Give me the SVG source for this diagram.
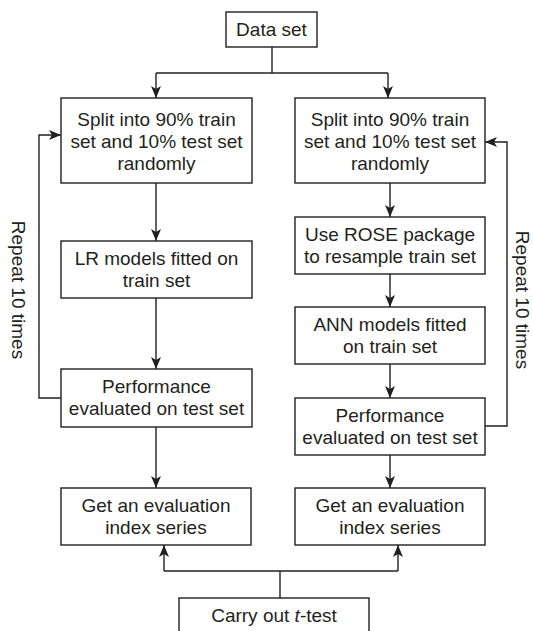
<svg xmlns="http://www.w3.org/2000/svg" width="533" height="631" viewBox="0 0 533 631">
<defs>
<marker id="ah" viewBox="0 0 12 10" refX="12" refY="5" markerWidth="12" markerHeight="10" markerUnits="userSpaceOnUse" orient="auto">
<path d="M0,0 L12,5 L0,10 L3,5 Z" fill="#231f20"/>
</marker>
<style>
.box{fill:#fff;stroke:#231f20;stroke-width:1.4}
.ln{fill:none;stroke:#231f20;stroke-width:1.4}
text{font-family:"Liberation Sans",Arial,sans-serif;font-size:19px;fill:#231f20;text-anchor:middle}
</style>
</defs>
<rect width="533" height="631" fill="#fff"/>
<g id="connectors">
<path class="ln" d="M272,47 V73"/>
<path class="ln" d="M156,73 H388"/>
<path class="ln" d="M156,73 V98" marker-end="url(#ah)"/>
<path class="ln" d="M388,73 V98" marker-end="url(#ah)"/>
<path class="ln" d="M156,183 V241" marker-end="url(#ah)"/>
<path class="ln" d="M156,298 V369" marker-end="url(#ah)"/>
<path class="ln" d="M156,427 V488" marker-end="url(#ah)"/>
<path class="ln" d="M61,398 H39 V135 H61" marker-end="url(#ah)"/>
<path class="ln" d="M390,183 V217" marker-end="url(#ah)"/>
<path class="ln" d="M390,274 V307" marker-end="url(#ah)"/>
<path class="ln" d="M390,364 V398" marker-end="url(#ah)"/>
<path class="ln" d="M390,455 V488" marker-end="url(#ah)"/>
<path class="ln" d="M485,426 H507 V142 H485" marker-end="url(#ah)"/>
<path class="ln" d="M280,598 V571"/>
<path class="ln" d="M164,571 H398"/>
<path class="ln" d="M164,571 V545" marker-end="url(#ah)"/>
<path class="ln" d="M398,571 V545" marker-end="url(#ah)"/>
<text transform="translate(12,290) rotate(90)">Repeat 10 times</text>
<text transform="translate(516,300) rotate(90)">Repeat 10 times</text>
</g>
<g id="n-data">
<rect class="box" x="226" y="12" width="91" height="35"/>
<text x="271.5" y="36">Data set</text>
</g>
<g id="n-split-l">
<rect class="box" x="61" y="98" width="191" height="85"/>
<text x="156.5" y="126">Split into 90% train</text>
<text x="156.5" y="148">set and 10% test set</text>
<text x="156.5" y="170">randomly</text>
</g>
<g id="n-lr">
<rect class="box" x="61" y="241" width="191" height="57"/>
<text x="156.5" y="265">LR models fitted on</text>
<text x="156.5" y="287">train set</text>
</g>
<g id="n-perf-l">
<rect class="box" x="61" y="369" width="191" height="58"/>
<text x="156.5" y="393">Performance</text>
<text x="156.5" y="415">evaluated on test set</text>
</g>
<g id="n-get-l">
<rect class="box" x="61" y="488" width="190" height="57"/>
<text x="156" y="512">Get an evaluation</text>
<text x="156" y="534">index series</text>
</g>
<g id="n-split-r">
<rect class="box" x="295" y="98" width="190" height="85"/>
<text x="390" y="126">Split into 90% train</text>
<text x="390" y="148">set and 10% test set</text>
<text x="390" y="170">randomly</text>
</g>
<g id="n-rose">
<rect class="box" x="295" y="217" width="190" height="57"/>
<text x="390" y="241">Use ROSE package</text>
<text x="390" y="263">to resample train set</text>
</g>
<g id="n-ann">
<rect class="box" x="295" y="307" width="190" height="57"/>
<text x="390" y="331">ANN models fitted</text>
<text x="390" y="353">on train set</text>
</g>
<g id="n-perf-r">
<rect class="box" x="295" y="398" width="190" height="57"/>
<text x="390" y="422">Performance</text>
<text x="390" y="444">evaluated on test set</text>
</g>
<g id="n-get-r">
<rect class="box" x="295" y="488" width="190" height="57"/>
<text x="390" y="512">Get an evaluation</text>
<text x="390" y="534">index series</text>
</g>
<g id="n-ttest">
<rect class="box" x="179" y="598" width="190" height="45"/>
<text x="274" y="622">Carry out <tspan font-style="italic">t</tspan>-test</text>
</g>
</svg>
